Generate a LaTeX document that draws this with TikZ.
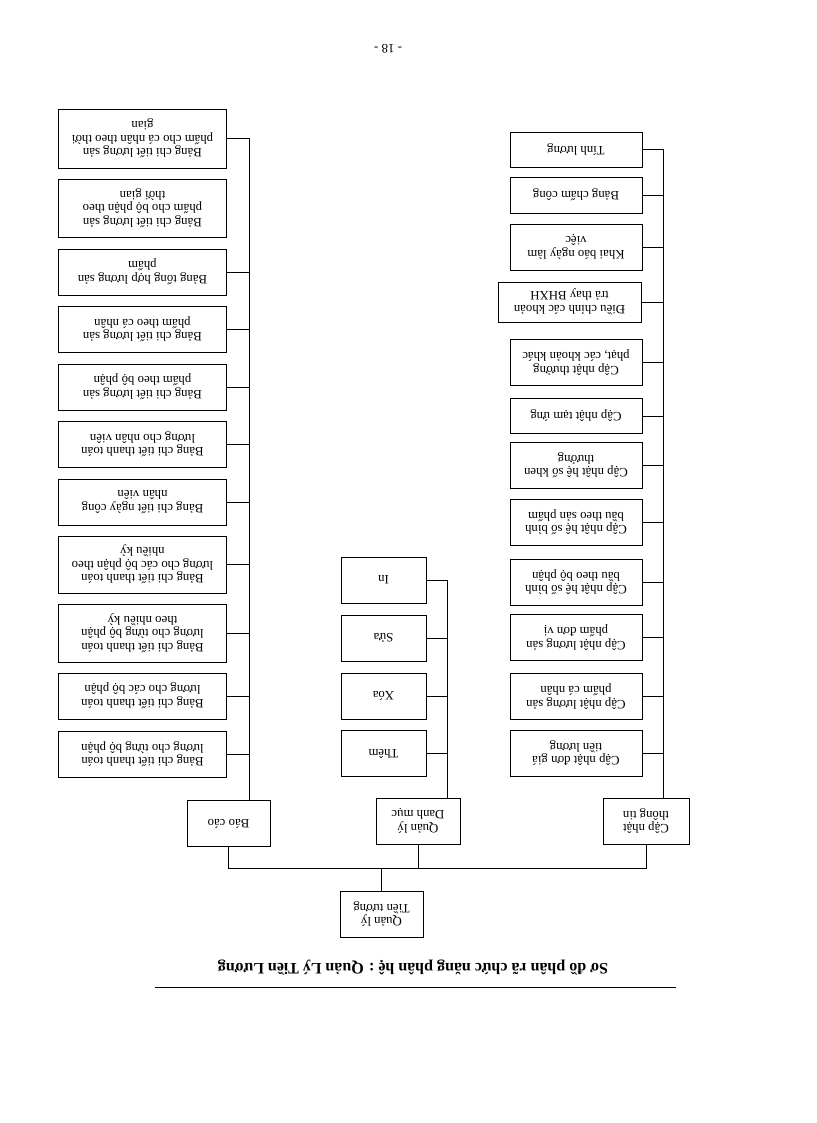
\documentclass[tikz,border=0pt]{standalone}
\usepackage{fontspec}
\setmainfont{Liberation Serif}
\begin{document}
\begin{tikzpicture}[x=1pt, y=1pt, line width=0.8pt,
    box/.style={draw, align=center, inner sep=2pt, font=\fontsize{12.8}{13.5}\selectfont},
    topbox/.style={box, minimum width=84pt, minimum height=46pt},
    updbox/.style={box, minimum width=132pt, minimum height=46pt},
    menubox/.style={box, minimum width=85pt, minimum height=46pt},
    repbox/.style={box, minimum width=168pt, minimum height=46pt}]
  \fill[white] (0,0) rectangle (816,1123);
  \useasboundingbox (0,0) rectangle (816,1123);
  % the page was scanned upside down
  \begin{scope}[rotate around={180:(408,561.5)}, transform shape]
    % title and page number
    \node[font=\bfseries\fontsize{16}{18}\selectfont] (title) at (403,968) {Sơ đồ phân rã chức năng phân hệ : Quản Lý Tiền Lương};
    \draw (140,987) -- (661,987);
    \node[font=\fontsize{13}{15}\selectfont] (pageno) at (428,49) {- 18 -};

    % root and first level
    \node[topbox, minimum width=83pt] (root) at (434.5,914) {Quản lý\\Tiền tương};
    \node[topbox, minimum width=86pt] (tt) at (170,821) {Cập nhật\\thông tin};
    \node[topbox] (dm) at (398,821) {Quản lý\\Danh mục};
    \node[topbox, minimum width=83pt] (bc) at (587.5,823.5) {Báo cáo};
    \coordinate (bus) at (0,868);
    \draw (root.south) -- (root.south |- bus);
    \draw (tt.north) |- (bus -| bc.north) -- (bc.north);
    \draw (dm.north) -- (dm.north |- bus);

    % Cap nhat thong tin
    \node[updbox] (tt1) at (240,753) {Cập nhật đơn giá\\tiền lương};
    \node[updbox] (tt2) at (240,696.5) {Cập nhật lương sản\\phẩm cá nhân};
    \node[updbox] (tt3) at (240,637.5) {Cập nhật lương sản\\phẩm đơn vị};
    \node[updbox] (tt4) at (240,582.5) {Cập nhật hệ số bình\\bầu theo bộ phận};
    \node[updbox] (tt5) at (240,522.5) {Cập nhật hệ số bình\\bầu theo sản phẩm};
    \node[updbox] (tt6) at (240,465.5) {Cập nhật hệ số khen\\thưởng};
    \node[updbox, minimum height=35pt] (tt7) at (240,416) {Cập nhật tạm ứng};
    \node[updbox] (tt8) at (240,362.5) {Cập nhật thưởng\\phạt, các khoản khác};
    \node[updbox, minimum width=143pt, minimum height=40pt] (tt9) at (246.5,302) {Điều chỉnh các khoản\\trả thay BHXH};
    \node[updbox] (tt10) at (240,247) {Khai báo ngày làm\\việc};
    \node[updbox, minimum height=36pt] (tt11) at (240,195) {Bảng chấm công};
    \node[updbox, minimum height=35pt] (tt12) at (240,149.5) {Tính lương};
    \coordinate (ttspine) at ([xshift=-17pt]tt.south);
    \foreach \i in {1,...,11}
      \draw (tt\i.west) -- (tt\i.west -| ttspine);
    \draw (ttspine) |- (tt12.west);

    % Quan ly danh muc
    \node[menubox] (mn1) at (432.5,753.5) {Thêm};
    \node[menubox] (mn2) at (432.5,696) {Xóa};
    \node[menubox] (mn3) at (432.5,638) {Sửa};
    \node[menubox] (mn4) at (432.5,580) {In};
    \coordinate (mnspine) at ([xshift=-29pt]dm.south);
    \foreach \i in {1,...,3}
      \draw (mn\i.west) -- (mn\i.west -| mnspine);
    \draw (mnspine) |- (mn4.west);

    % Bao cao
    \node[repbox] (rp1) at (673.5,754.5) {Bảng chi tiết thanh toán\\lương cho từng bộ phận};
    \node[repbox] (rp2) at (673.5,696) {Bảng chi tiết thanh toán\\lương cho các bộ phận};
    \node[repbox, minimum height=58pt] (rp3) at (673.5,633) {Bảng chi tiết thanh toán\\lương cho từng bộ phận\\theo nhiều kỳ};
    \node[repbox, minimum height=57pt] (rp4) at (673.5,564.5) {Bảng chi tiết thanh toán\\lương cho các bộ phận theo\\nhiều kỳ};
    \node[repbox] (rp5) at (673.5,502) {Bảng chi tiết ngày công\\nhân viên};
    \node[repbox] (rp6) at (673.5,444.5) {Bảng chi tiết thanh toán\\lương cho nhân viên};
    \node[repbox] (rp7) at (673.5,387) {Bảng chi tiết lương sản\\phẩm theo bộ phận};
    \node[repbox] (rp8) at (673.5,329.5) {Bảng chi tiết lương sản\\phẩm theo cá nhân};
    \node[repbox] (rp9) at (673.5,272) {Bảng tổng hợp lương sản\\phẩm};
    \node[repbox, minimum height=58pt] (rp10) at (673.5,208) {Bảng chi tiết lương sản\\phẩm cho bộ phận theo\\thời gian};
    \node[repbox, minimum height=59pt] (rp11) at (673.5,138.5) {Bảng chi tiết lương sản\\phẩm cho cá nhân theo thời\\gian};
    \coordinate (rpspine) at ([xshift=-20.5pt]bc.south);
    \foreach \i in {1,...,9}
      \draw (rp\i.west) -- (rp\i.west -| rpspine);
    \draw (rpspine) |- (rp11.west);
  \end{scope}
\end{tikzpicture}
\end{document}
